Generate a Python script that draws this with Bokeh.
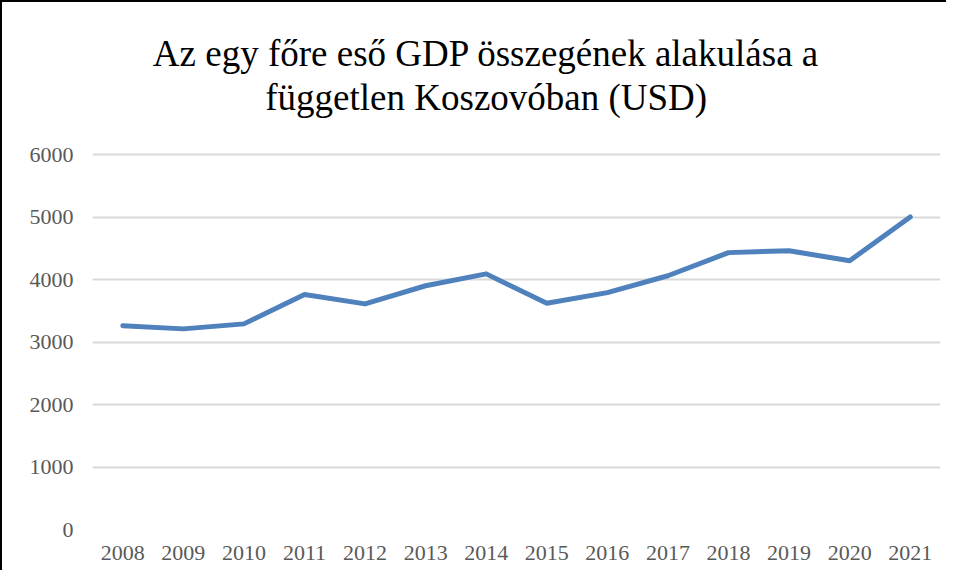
from bokeh.plotting import figure
from bokeh.models import Label, FixedTicker, FactorRange, Range1d
from bokeh.embed import file_html
from bokeh.resources import INLINE

years = ["2008", "2009", "2010", "2011", "2012", "2013", "2014",
         "2015", "2016", "2017", "2018", "2019", "2020", "2021"]
gdp_per_capita = [3260, 3210, 3290, 3760, 3610, 3900, 4090,
                  3620, 3790, 4060, 4430, 4460, 4300, 5000]
y_ticks = [0, 1000, 2000, 3000, 4000, 5000, 6000]
title_lines = ["Az egy főre eső GDP összegének alakulása a",
               "független Koszovóban (USD)"]

FONT = "Liberation Serif"

# frame extends up to the canvas top so the title can sit inside it;
# only 0..6000 carries ticks and grid lines
p = figure(width=946, height=570,
           x_range=FactorRange(*years),
           y_range=Range1d(0, 8432),
           output_backend="svg", toolbar_location=None, title=None,
           min_border_left=90, min_border_right=8,
           min_border_top=0, min_border_bottom=43)

p.styles = {"border-left": "2px solid black", "border-top": "2px solid black"}

p.line(x=years, y=gdp_per_capita, line_color="#4F81BD", line_width=5,
       line_cap="round", line_join="round")

title_y = [7616, 6912]
for txt, ty in zip(title_lines, title_y):
    p.add_layout(Label(x=6.5, y=ty,
                       text=txt, text_align="center", text_baseline="alphabetic",
                       text_font=FONT, text_font_size="37px",
                       text_color="#000000"))

p.outline_line_color = None
p.xgrid.visible = False
p.ygrid.grid_line_color = "#d9d9d9"
p.ygrid.grid_line_width = 2

p.yaxis.ticker = FixedTicker(ticks=y_ticks)
for ax in (p.xaxis[0], p.yaxis[0]):
    ax.axis_line_color = None
    ax.major_tick_line_color = None
    ax.minor_tick_line_color = None
    ax.major_label_text_font = FONT
    ax.major_label_text_color = "#595959"
p.yaxis.major_label_text_font_size = "22px"
p.yaxis.major_label_standoff = 13
p.xaxis.major_label_text_font_size = "22px"
p.xaxis.major_label_standoff = 10

open("out.html", "w").write(file_html(p, INLINE))
